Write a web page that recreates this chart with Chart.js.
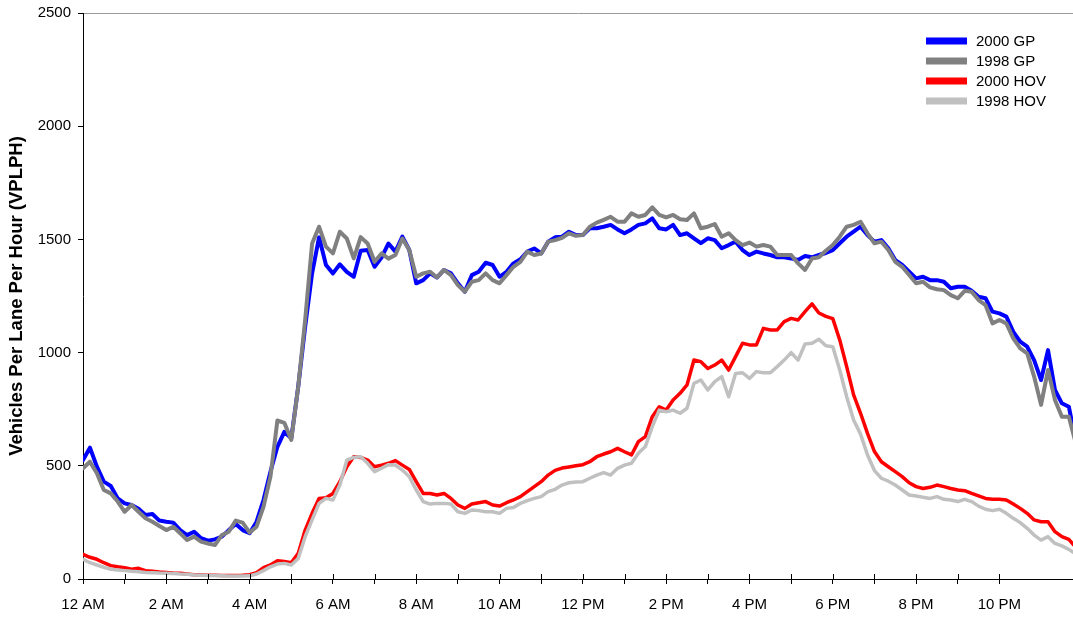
<!DOCTYPE html>
<html>
<head>
<meta charset="utf-8">
<title>Vehicles Per Lane Per Hour</title>
<script src="https://cdn.jsdelivr.net/npm/chart.js@4.4.1/dist/chart.umd.min.js"></script>
<style>
  html, body { margin: 0; padding: 0; background: #fff; }
  #wrap { width: 1073px; height: 619px; position: relative; }
</style>
</head>
<body>
<div id="wrap"><canvas id="chart"></canvas></div>
<script>
// Flow in vehicles per lane per hour, sampled every 10 minutes from midnight.
const stepMinutes = 10;

const hourLabels = ['12 AM', '2 AM', '4 AM', '6 AM', '8 AM', '10 AM',
                    '12 PM', '2 PM', '4 PM', '6 PM', '8 PM', '10 PM'];

const seriesNames = ['2000 GP', '1998 GP', '2000 HOV', '1998 HOV'];

const gp2000 = [
  525, 580, 496, 430, 411, 356, 334, 327, 310, 283, 287, 258,
  253, 249, 216, 194, 209, 180, 169, 175, 187, 216, 243, 216,
  202, 253, 349, 474, 584, 650, 621, 849, 1114, 1350, 1509, 1387,
  1350, 1390, 1357, 1335, 1450, 1453, 1379, 1420, 1482, 1446, 1512, 1453,
  1306, 1320, 1350, 1332, 1365, 1350, 1306, 1269, 1342, 1357, 1397, 1387,
  1335, 1357, 1394, 1412, 1446, 1460, 1438, 1490, 1509, 1512, 1534, 1519,
  1519, 1549, 1549, 1556, 1564, 1544, 1527, 1544, 1564, 1571, 1593, 1549,
  1544, 1564, 1519, 1527, 1505, 1483, 1505, 1497, 1461, 1475, 1490, 1453,
  1431, 1446, 1438, 1431, 1421, 1421, 1416, 1409, 1427, 1421, 1431, 1440,
  1453, 1483, 1512, 1534, 1556, 1519, 1490, 1497, 1461, 1409, 1387, 1357,
  1328, 1335, 1320, 1320, 1313, 1284, 1291, 1291, 1273, 1247, 1240, 1181,
  1173, 1159, 1092, 1048, 1026, 967, 879, 1011, 835, 776, 761, 610
];

const gp1998 = [
  489, 518, 467, 393, 378, 342, 297, 327, 297, 268, 253, 234,
  216, 231, 202, 172, 187, 165, 157, 150, 194, 209, 258, 249,
  205, 231, 319, 452, 700, 690, 614, 849, 1144, 1482, 1556, 1468,
  1438, 1534, 1504, 1416, 1510, 1482, 1401, 1438, 1415, 1431, 1504, 1453,
  1335, 1350, 1357, 1332, 1365, 1342, 1298, 1269, 1313, 1320, 1350, 1320,
  1306, 1342, 1379, 1401, 1446, 1431, 1438, 1490, 1497, 1507, 1527, 1516,
  1519, 1556, 1574, 1586, 1600, 1578, 1578, 1615, 1600, 1608, 1642, 1608,
  1597, 1608, 1589, 1586, 1615, 1549, 1556, 1568, 1512, 1527, 1497, 1475,
  1486, 1468, 1475, 1468, 1431, 1431, 1431, 1394, 1365, 1416, 1421, 1450,
  1475, 1512, 1556, 1564, 1578, 1527, 1483, 1490, 1453, 1401, 1379, 1343,
  1306, 1313, 1288, 1280, 1276, 1254, 1240, 1273, 1269, 1232, 1210, 1129,
  1144, 1129, 1063, 1019, 997, 894, 769, 923, 791, 717, 717, 600
];

const hov2000 = [
  109, 96, 87, 72, 59, 54, 50, 43, 47, 37, 34, 31,
  29, 26, 25, 22, 19, 18, 17, 17, 16, 16, 16, 17,
  19, 28, 50, 62, 81, 77, 72, 113, 216, 290, 356, 359,
  378, 430, 496, 540, 537, 525, 496, 503, 511, 523, 503, 484,
  430, 378, 378, 371, 378, 356, 327, 312, 331, 337, 342, 327,
  322, 337, 349, 364, 386, 408, 430, 459, 480, 490, 495, 500,
  505, 518, 540, 552, 562, 577, 562, 548, 607, 629, 717, 761,
  746, 791, 820, 857, 967, 960, 930, 945, 967, 923, 982, 1041,
  1034, 1034, 1107, 1100, 1100, 1137, 1151, 1144, 1181, 1215, 1175, 1160,
  1150, 1056, 938, 813, 732, 643, 563, 518, 496, 474, 452, 425,
  408, 400, 405, 415, 408, 400, 393, 390, 378, 367, 356, 352,
  352, 349, 331, 312, 290, 261, 253, 253, 209, 187, 175, 140
];

const hov1998 = [
  87, 72, 62, 52, 43, 40, 37, 34, 32, 29, 28, 26,
  25, 24, 22, 21, 18, 17, 16, 15, 14, 13, 13, 13,
  14, 22, 37, 54, 66, 69, 62, 91, 187, 261, 334, 356,
  349, 415, 525, 537, 540, 511, 474, 489, 505, 503, 481, 452,
  393, 342, 331, 334, 334, 331, 297, 290, 305, 302, 297, 297,
  290, 312, 316, 334, 346, 356, 364, 386, 396, 415, 425, 428,
  430, 445, 459, 470, 459, 489, 503, 511, 555, 585, 673, 746,
  739, 746, 732, 754, 864, 879, 835, 872, 894, 805, 908, 911,
  886, 916, 911, 911, 938, 967, 1000, 967, 1038, 1041, 1059, 1030,
  1026, 923, 805, 702, 640, 548, 479, 445, 432, 415, 393, 371,
  367, 361, 356, 364, 352, 349, 342, 352, 342, 322, 308, 302,
  308, 290, 268, 249, 224, 194, 172, 187, 157, 146, 131, 110
];

const FONT = "'Liberation Sans', Arial, Helvetica, sans-serif";

function toPoints(values) {
  return values.map((v, i) => ({ x: i * stepMinutes, y: v }));
}

const datasets = [
  { label: seriesNames[0], data: toPoints(gp2000),  borderColor: '#0000ff', borderWidth: 4,   order: 2 },
  { label: seriesNames[1], data: toPoints(gp1998),  borderColor: '#808080', borderWidth: 4,   order: 1 },
  { label: seriesNames[2], data: toPoints(hov2000), borderColor: '#ff0000', borderWidth: 3.5, order: 2 },
  { label: seriesNames[3], data: toPoints(hov1998), borderColor: '#c0c0c0', borderWidth: 3.5, order: 1 }
].map(d => Object.assign(d, {
  pointRadius: 0, pointHoverRadius: 0, tension: 0, fill: false,
  borderJoinStyle: 'round', borderCapStyle: 'round'
}));

// Hour tick marks that cross the time axis (the library draws only the outer half).
const crossTicks = {
  id: 'crossTicks',
  afterDatasetsDraw(chart) {
    const xs = chart.scales.x;
    const ctx = chart.ctx;
    ctx.save();
    ctx.strokeStyle = '#000';
    ctx.lineWidth = 1;
    ctx.beginPath();
    for (const t of xs.ticks) {
      const px = Math.round(xs.getPixelForValue(t.value)) + 0.5;
      ctx.moveTo(px, xs.top - 5);
      ctx.lineTo(px, xs.top);
    }
    ctx.stroke();
    ctx.restore();
  }
};

// Legend drawn inside the plot, top right, with thick line swatches.
const boxLegend = {
  id: 'boxLegend',
  afterDraw(chart) {
    const { ctx, chartArea } = chart;
    const x0 = chartArea.right - 147;
    const y0 = chartArea.top + 28;
    ctx.save();
    ctx.font = '15px ' + FONT;
    ctx.textBaseline = 'middle';
    ctx.textAlign = 'left';
    chart.data.datasets.forEach((ds, i) => {
      const y = y0 + i * 20;
      ctx.strokeStyle = ds.borderColor;
      ctx.lineWidth = 7;
      ctx.lineCap = 'butt';
      ctx.beginPath();
      ctx.moveTo(x0, y);
      ctx.lineTo(x0 + 41, y);
      ctx.stroke();
      ctx.fillStyle = '#000';
      ctx.fillText(ds.label, x0 + 50, y + 1);
    });
    ctx.restore();
  }
};

new Chart(document.getElementById('chart'), {
  type: 'line',
  data: { datasets },
  plugins: [crossTicks, boxLegend],
  options: {
    responsive: true,
    maintainAspectRatio: false,
    animation: false,
    events: [],
    layout: { padding: { top: 13, right: 0, left: 0, bottom: 0 } },
    plugins: {
      legend: { display: false },
      tooltip: { enabled: false }
    },
    scales: {
      x: {
        type: 'linear',
        min: 0,
        max: 1426,
        afterBuildTicks(scale) {
          scale.ticks = scale.ticks.filter(t => t.value % 60 === 0);
        },
        afterFit(scale) {
          scale.height = 40;
          scale.paddingLeft = 0;
          scale.paddingRight = 0;
        },
        ticks: {
          stepSize: 60,
          autoSkip: false,
          maxRotation: 0,
          padding: 12,
          color: '#000',
          font: { family: FONT, size: 15 },
          callback: v => (v % 120 === 0 ? hourLabels[v / 120] : '')
        },
        grid: {
          drawOnChartArea: false,
          color: '#000',
          tickColor: '#000',
          tickLength: 5
        },
        border: { color: '#000', width: 1 }
      },
      y: {
        min: 0,
        max: 2500,
        afterFit(scale) {
          scale.width = 83;
          scale.paddingTop = 0;
          scale.paddingBottom = 0;
        },
        ticks: {
          stepSize: 500,
          padding: 7,
          color: '#000',
          font: { family: FONT, size: 15 },
          callback: v => String(v)
        },
        grid: {
          color: ctx => (ctx.tick && ctx.tick.value === 2500 ? '#9a9a9a' : 'rgba(0,0,0,0)'),
          tickColor: '#000',
          tickLength: 5
        },
        border: { color: '#000', width: 1 },
        title: {
          display: true,
          text: 'Vehicles Per Lane Per Hour (VPLPH)',
          color: '#000',
          font: { family: FONT, size: 18.5, weight: 'bold' },
          padding: { top: 6, bottom: 0 }
        }
      }
    }
  }
});
</script>
</body>
</html>
